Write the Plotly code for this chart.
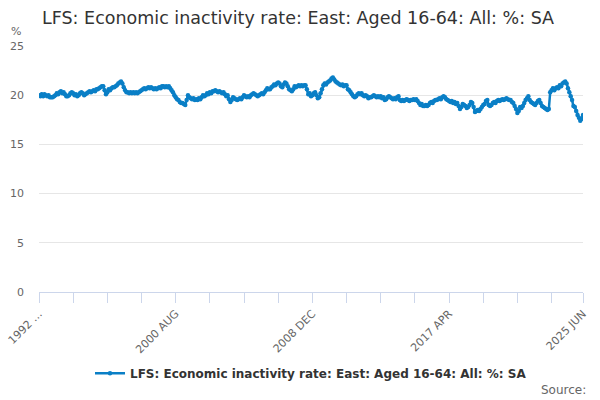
import plotly.graph_objs as go

# monthly series, 1992 APR .. 2025 JUN
start_year = 1992
start_month = 4
months = ["JAN", "FEB", "MAR", "APR", "MAY", "JUN", "JUL", "AUG", "SEP", "OCT", "NOV", "DEC"]

values = [
    # 1992 (Apr-Dec)
    20.0, 19.9, 20.1, 19.9, 20.1, 20.0, 19.9, 20.0, 19.8,
    # 1993
    19.8, 19.8, 19.9, 20.0, 20.2, 20.1, 20.3, 20.4, 20.2, 20.3, 20.1, 19.9,
    # 1994
    19.9, 20.0, 20.2, 20.3, 20.2, 20.0, 20.1, 19.9, 20.0, 20.2, 20.3, 20.2,
    # 1995
    20.0, 20.1, 20.2, 20.3, 20.4, 20.3, 20.4, 20.5, 20.4, 20.6, 20.6, 20.7,
    # 1996
    20.8, 20.9, 20.9, 20.5, 20.1, 20.3, 20.6, 20.5, 20.7, 20.8, 20.8, 20.9,
    # 1997
    21.0, 21.2, 21.3, 21.4, 21.2, 20.8, 20.5, 20.3, 20.3, 20.2, 20.3, 20.2,
    # 1998
    20.3, 20.2, 20.3, 20.2, 20.3, 20.4, 20.5, 20.6, 20.7, 20.6, 20.7, 20.8,
    # 1999
    20.7, 20.8, 20.7, 20.6, 20.7, 20.6, 20.7, 20.8, 20.7, 20.9, 20.9, 20.8,
    # 2000
    20.9, 20.8, 20.9, 20.7, 20.5, 20.3, 20.0, 19.8, 19.6, 19.5, 19.3, 19.2,
    # 2001
    19.2, 19.1, 19.0, 19.5, 20.0, 19.8, 19.7, 19.6, 19.7, 19.5, 19.6, 19.5,
    # 2002
    19.7, 19.6, 19.8, 20.0, 19.9, 20.0, 20.2, 20.1, 20.3, 20.2, 20.4, 20.4,
    # 2003
    20.5, 20.4, 20.3, 20.4, 20.3, 20.2, 20.3, 20.1, 19.9, 20.0, 19.6, 19.3,
    # 2004
    19.5, 19.8, 19.7, 19.6, 19.5, 19.6, 19.7, 19.6, 19.8, 20.0, 19.9, 19.8,
    # 2005
    19.9, 19.8, 20.0, 20.1, 20.2, 20.1, 20.0, 19.9, 20.0, 20.1, 20.2, 20.1,
    # 2006
    20.3, 20.5, 20.7, 20.6, 20.6, 20.8, 20.9, 21.1, 21.0, 21.2, 21.3, 21.2,
    # 2007
    20.9, 20.8, 21.1, 21.3, 21.2, 20.9, 20.6, 20.5, 20.4, 20.6, 20.9, 20.8,
    # 2008
    20.9, 21.0, 20.9, 21.0, 20.9, 21.0, 21.0, 20.6, 20.1, 20.2, 19.9, 20.0,
    # 2009
    20.2, 20.3, 20.0, 19.7, 19.8, 20.2, 20.6, 21.0, 21.2, 21.1, 21.3, 21.4,
    # 2010
    21.5, 21.7, 21.8, 21.6, 21.4, 21.3, 21.2, 21.1, 21.0, 21.1, 20.9, 21.0,
    # 2011
    21.0, 20.6, 20.5, 20.3, 20.1, 19.9, 19.8, 19.9, 20.1, 20.2, 20.1, 20.2,
    # 2012
    20.0, 19.9, 20.0, 19.9, 19.7, 19.8, 19.8, 19.9, 20.0, 19.9, 19.8, 19.9,
    # 2013
    19.8, 19.9, 19.7, 19.8, 19.5, 19.6, 19.8, 19.9, 19.8, 19.7, 19.6, 19.7,
    # 2014
    19.6, 19.8, 19.9, 19.5, 19.4, 19.5, 19.4, 19.5, 19.6, 19.5, 19.4, 19.5,
    # 2015
    19.5, 19.6, 19.5, 19.6, 19.4, 19.2, 19.0, 19.1, 18.9, 18.9, 19.0, 18.9,
    # 2016
    19.0, 19.2, 19.3, 19.2, 19.4, 19.5, 19.5, 19.6, 19.7, 19.6, 19.8, 19.9,
    # 2017
    19.8, 19.6, 19.5, 19.4, 19.3, 19.4, 19.2, 19.3, 19.1, 19.2, 18.9, 18.6,
    # 2018
    18.8, 19.1, 19.0, 18.9, 18.7, 18.8, 19.0, 19.3, 19.2, 18.8, 18.3, 18.4,
    # 2019
    18.5, 18.4, 18.6, 18.8, 19.0, 19.1, 19.4, 19.5, 19.0, 18.9, 19.0, 19.2,
    # 2020
    19.3, 19.2, 19.4, 19.5, 19.4, 19.5, 19.6, 19.5, 19.6, 19.7, 19.6, 19.5,
    # 2021
    19.5, 19.3, 19.2, 18.9, 18.6, 18.2, 18.4, 18.8, 18.7, 18.9, 19.2, 19.5,
    # 2022
    19.7, 19.9, 19.5, 19.3, 19.2, 19.1, 19.0, 19.2, 19.4, 19.5, 19.2, 18.9,
    # 2023
    18.8, 18.7, 18.6, 18.5, 18.6, 20.3, 20.5, 20.7, 20.5, 20.7, 20.8, 20.7,
    # 2024
    21.0, 20.9, 21.2, 21.3, 21.4, 21.2, 20.7, 20.3, 19.9, 19.5, 18.9, 18.8,
    # 2025 (Jan-Jun)
    18.4, 18.0, 17.7, 17.4, 17.6, 18.0,
]

series_name = "LFS: Economic inactivity rate: East: Aged 16-64: All: %: SA"

# category labels like "2000 AUG"
labels = []
for k in range(len(values)):
    m = start_month - 1 + k
    labels.append(f"{start_year + m // 12} {months[m % 12]}")

# tick marks every 25 months, text every 100, plus the last period
tick_idx = list(range(0, len(labels), 25)) + [len(labels) - 1]
tick_vals = [labels[i] for i in tick_idx]
tick_text = []
for i in tick_idx:
    if i == 0:
        tick_text.append("1992 …")
    elif i % 100 == 0 or i == len(labels) - 1:
        tick_text.append(labels[i])
    else:
        tick_text.append("")

blue = "#0a7fc6"
W, H = 600, 400

fig = go.Figure()
fig.add_trace(go.Scatter(
    x=labels, y=values, name=series_name,
    mode="lines+markers",
    line=dict(color=blue, width=2.5),
    marker=dict(color=blue, size=4.5),
))

fig.update_layout(
    width=W, height=H,
    paper_bgcolor="white", plot_bgcolor="white",
    font=dict(family="DejaVu Sans", color="#666666", size=11),
    margin=dict(l=39, r=17, t=46, b=108, autoexpand=False),
    title=dict(text=series_name, x=42 / W, xanchor="left", xref="container",
               y=1 - 18 / H, yanchor="middle",
               font=dict(size=17.5, color="#333333")),
    showlegend=True,
    legend=dict(orientation="h", x=0.5, xanchor="center", y=-0.33, yanchor="middle",
                font=dict(size=12, color="#333333", weight="bold")),
    annotations=[
        dict(text="%", xref="paper", yref="paper", x=-0.055, y=1.057,
             xanchor="left", yanchor="middle", showarrow=False,
             font=dict(size=11, color="#666666")),
        dict(text="Source:", xref="paper", yref="paper", x=1.01, y=-0.398,
             xanchor="right", yanchor="middle", showarrow=False,
             font=dict(size=12, color="#666666")),
    ],
)

fig.update_xaxes(
    type="category", range=[0, len(labels) - 1], automargin=False,
    tickmode="array", tickvals=tick_vals, ticktext=tick_text,
    tickangle=-45, ticks="outside", ticklen=10, tickcolor="#ccd6eb",
    showline=True, linecolor="#ccd6eb", linewidth=1,
    showgrid=False, tickfont=dict(size=11, color="#666666"),
)
fig.update_yaxes(
    range=[0, 25], dtick=5, showgrid=True, gridcolor="#e6e6e6",
    zeroline=False, showline=False, ticks="", automargin=False,
    ticklabelstandoff=14, tickfont=dict(size=11, color="#666666"),
)

# drop the default page margin so the figure sits in the corner of the window
fig.write_html("out.html", config={"displayModeBar": False},
               post_script="document.body.style.margin = '0';")
